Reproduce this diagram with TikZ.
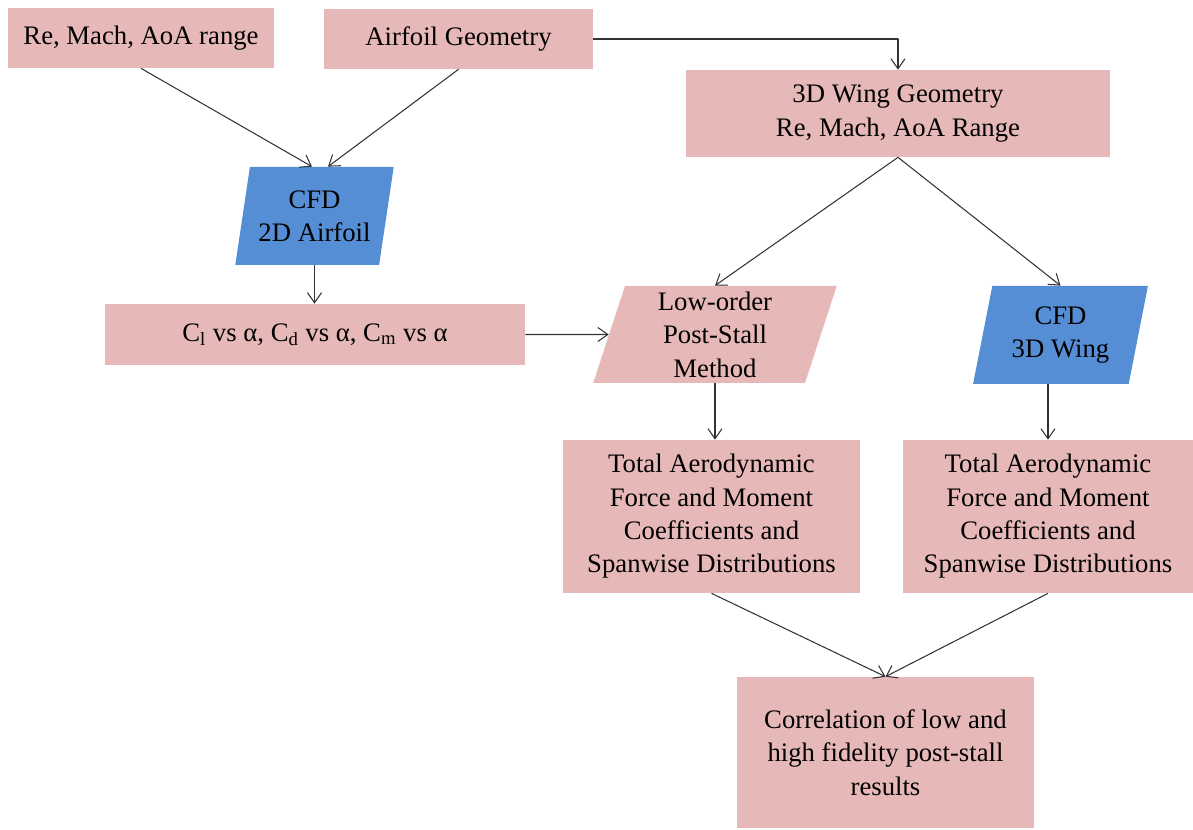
\documentclass[tikz,border=0pt]{standalone}
\usepackage{fontspec}
\setmainfont{Liberation Serif}
\usetikzlibrary{shapes.geometric,arrows.meta}
\definecolor{boxpink}{HTML}{E6B9B8}
\definecolor{boxblue}{HTML}{558ED5}
\begin{document}
\begin{tikzpicture}[line join=round,>={Straight Barb[length=2mm,width=2.8mm]},
	box/.style={fill=boxpink,align=center,inner sep=2pt,font=\fontsize{15.2}{19}\selectfont},
	slant/.style={box,trapezium,trapezium left angle=77,trapezium right angle=103,trapezium stretches=true},
	link/.style={->,black!80,line width=0.6pt}]
	\useasboundingbox (0,0) rectangle (23.86,16.6);
	% inputs
	\node[box,minimum width=5.32cm,minimum height=1.2cm] (re) at (2.82,15.84) {Re, Mach, AoA range};
	\node[box,minimum width=5.38cm,minimum height=1.2cm] (air) at (9.17,15.82) {Airfoil Geometry};
	\node[box,minimum width=8.48cm,minimum height=1.74cm] (wing) at (17.96,14.33) {3D Wing Geometry\\Re, Mach, AoA Range};
	% 2D branch
	\node[slant,fill=boxblue,minimum width=3.18cm,minimum height=1.96cm] (cfdtwo) at (6.29,12.28) {CFD\\2D Airfoil};
	\node[box,minimum width=8.4cm,minimum height=1.22cm] (clcd) at (6.3,9.91)
		{C\textsubscript{l} vs α, C\textsubscript{d} vs α, C\textsubscript{m} vs α};
	% methods
	\node[slant,minimum width=4.88cm,minimum height=1.94cm] (low) at (14.3,9.91) {Low-order\\Post-Stall\\Method};
	\node[slant,fill=boxblue,minimum width=3.5cm,minimum height=1.96cm] (cfdthree) at (21.21,9.9) {CFD\\3D Wing};
	% results
	\node[box,minimum width=5.94cm,minimum height=3.06cm] (totl) at (14.23,6.27)
		{Total Aerodynamic\\Force and Moment\\Coefficients and\\Spanwise Distributions};
	\node[box,minimum width=5.8cm,minimum height=3.06cm] (totr) at (20.96,6.27)
		{Total Aerodynamic\\Force and Moment\\Coefficients and\\Spanwise Distributions};
	\node[box,minimum width=5.94cm,minimum height=3.02cm] (corr) at (17.71,1.55)
		{Correlation of low and\\high fidelity post-stall\\results};
	% connectors
	\draw[link] (re.south) -- ([xshift=-0.05cm]cfdtwo.north);
	\draw[link] (air.south) -- ([xshift=0.27cm]cfdtwo.north);
	\draw[link] (air.east) -| (wing.north);
	\draw[link] (cfdtwo.south) -- (cfdtwo.south |- clcd.north);
	\draw[link] (clcd.east) -- (low.west);
	\draw[link] (wing.south) -- (low.north);
	\draw[link] (wing.south) -- (cfdthree.north);
	\draw[link] (low.south) -- (low.south |- totl.north);
	\draw[link] (totr.north |- cfdthree.south) -- (totr.north);
	\draw[link] (totl.south) -- (corr.north);
	\draw[link] (totr.south) -- (corr.north);
\end{tikzpicture}
\end{document}
